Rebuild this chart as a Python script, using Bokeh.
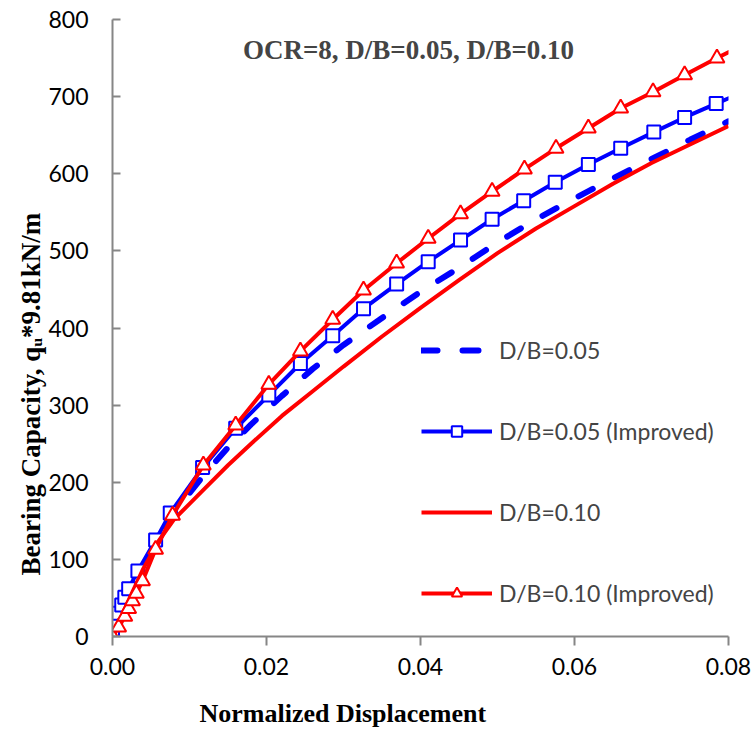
import math

from bokeh.embed import file_html
from bokeh.models import FixedTicker, Label, NumeralTickFormatter, Title
from bokeh.plotting import figure
from bokeh.resources import INLINE

# Normalized displacement vs. bearing capacity (q_u * 9.81 kN/m), OCR = 8

# D/B = 0.05 (dashed, no markers)
db05_x = [0, 0.001, 0.002, 0.004, 0.006, 0.008, 0.010, 0.012, 0.015, 0.018, 0.022,
          0.026, 0.030, 0.035, 0.040, 0.045, 0.050, 0.055, 0.060, 0.065, 0.070,
          0.075, 0.080]
db05_y = [0, 24, 46, 90, 128, 160, 186, 211, 245, 275, 312,
          347, 378, 413, 447, 478, 511, 541, 568, 594, 619,
          644, 668]

# D/B = 0.05 (Improved), square markers
db05i_x = [0, 0.0004, 0.0008, 0.0012, 0.0016, 0.0021, 0.0033, 0.0056, 0.0075, 0.0117,
           0.0160, 0.0203, 0.0244, 0.0286, 0.0326, 0.0369, 0.0410, 0.0452, 0.0493,
           0.0534, 0.0575, 0.0618, 0.0660, 0.0703, 0.0743, 0.0784, 0.0826]
db05i_y = [0, 18, 30, 41, 51, 62, 85, 125, 160, 219,
           270, 313, 354, 390, 425, 457, 486, 514, 541,
           565, 589, 612, 633, 654, 673, 691, 709]

# D/B = 0.10 (solid, no markers)
db10_x = [0, 0.002, 0.004, 0.006, 0.008, 0.010, 0.012, 0.015, 0.018, 0.022,
          0.026, 0.030, 0.035, 0.040, 0.045, 0.050, 0.055, 0.060, 0.065, 0.070,
          0.075, 0.080]
db10_y = [0, 45, 88, 124, 152, 172, 192, 222, 250, 286,
          318, 350, 389, 426, 462, 497, 529, 558, 587, 614,
          638, 662]

# D/B = 0.10 (Improved), triangle markers
db10i_x = [0, 0.0008, 0.0016, 0.0021, 0.0026, 0.0031, 0.0039, 0.0056, 0.0078, 0.0118,
           0.0160, 0.0203, 0.0244, 0.0286, 0.0326, 0.0369, 0.0410, 0.0452, 0.0493,
           0.0535, 0.0576, 0.0618, 0.0660, 0.0702, 0.0743, 0.0785, 0.0826]
db10i_y = [0, 12, 26, 36, 46, 56, 72, 113, 157, 222,
           274, 327, 370, 411, 449, 484, 516, 548, 577,
           606, 633, 659, 685, 706, 728, 750, 771]

x_ticks = [0, 0.02, 0.04, 0.06, 0.08]
y_ticks = [0, 100, 200, 300, 400, 500, 600, 700, 800]

BLUE = "#0000FF"
RED = "#FF0000"
AXIS_GREY = "#868686"
SANS = "Lato"
SERIF = "Liberation Serif"

W, H = 756, 729
LEFT, RIGHT, TOP, BOTTOM = 112, 28, 19, 93

p = figure(width=W, height=H, x_range=(0, 0.08), y_range=(0, 800),
           output_backend="svg", toolbar_location=None,
           min_border_left=LEFT, min_border_right=RIGHT,
           min_border_top=TOP, min_border_bottom=BOTTOM)
p.outline_line_color = None
p.xgrid.visible = False
p.ygrid.visible = False
p.background_fill_color = "white"
p.border_fill_color = "white"

# data units per screen pixel inside the frame
XPX = 0.08 / (W - LEFT - RIGHT)
YPX = 800 / (H - TOP - BOTTOM)

# series
p.line(db05_x, db05_y, color=BLUE, line_width=6, line_dash="16 25",
       line_cap="round", legend_label="D/B=0.05")

p.line(db05i_x, db05i_y, color=BLUE, line_width=4, legend_label="D/B=0.05 (Improved)")
p.scatter(db05i_x, db05i_y, marker="square", size=13, line_color=BLUE,
          line_width=2, fill_color="white", legend_label="D/B=0.05 (Improved)")

p.line(db10_x, db10_y, color=RED, line_width=4, legend_label="D/B=0.10")

p.line(db10i_x, db10i_y, color=RED, line_width=4, legend_label="D/B=0.10 (Improved)")
p.scatter(db10i_x, db10i_y, marker="triangle", size=15, line_color=RED,
          line_width=2, fill_color="white", legend_label="D/B=0.10 (Improved)")

# axes
for ax in (p.xaxis[0], p.yaxis[0]):
    ax.axis_line_color = AXIS_GREY
    ax.axis_line_width = 2
    ax.major_tick_line_color = AXIS_GREY
    ax.major_tick_line_width = 2
    ax.minor_tick_line_color = None
    ax.major_label_text_font = SANS
    ax.major_label_text_font_size = "23px"
    ax.major_label_text_color = "black"

p.xaxis.ticker = FixedTicker(ticks=x_ticks)
p.xaxis.formatter = NumeralTickFormatter(format="0.00")
p.xaxis.major_tick_in = 0
p.xaxis.major_tick_out = 9
p.xaxis.major_label_standoff = 12

p.yaxis.ticker = FixedTicker(ticks=y_ticks)
p.yaxis.major_tick_in = 8
p.yaxis.major_tick_out = 0
p.yaxis.major_label_standoff = 24

# legend
lg = p.legend[0]
lg.location = (309, 29)
lg.border_line_color = None
lg.background_fill_alpha = 0
lg.label_text_font = SANS
lg.label_text_font_size = "23px"
lg.glyph_width = 71
lg.glyph_height = 26
lg.label_height = 26
lg.spacing = 53
lg.padding = 0
lg.margin = 0
lg.label_standoff = 7

# title inside the frame
p.add_layout(Label(x=(408 - LEFT) * XPX, y=(H - BOTTOM - 49) * YPX,
                   text="OCR=8, D/B=0.05, D/B=0.10", text_align="center",
                   text_baseline="alphabetic", text_font=SERIF,
                   text_font_style="bold", text_font_size="27px"))

# axis titles in the side panels (a blank strip first pushes the x title down)
p.add_layout(Title(text=" ", text_font_size="9px", standoff=6), "below")
p.add_layout(Title(text="Normalized Displacement", align="left", offset=87,
                   text_font=SERIF, text_font_style="bold", text_font_size="26px",
                   text_color="black", standoff=2), "below")
p.add_layout(Title(text="Bearing Capacity, q\u1d64*9.81kN/m", align="left", offset=61,
                   text_font=SERIF, text_font_style="bold", text_font_size="27px",
                   text_color="black", standoff=0), "left")

open("out.html", "w").write(file_html(p, INLINE))
